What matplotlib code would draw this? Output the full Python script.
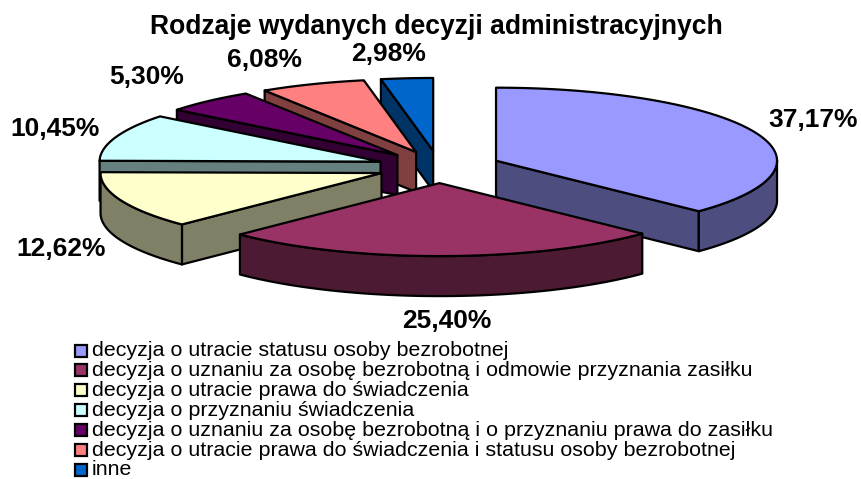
"""Rodzaje wydanych decyzji - wykres kołowy 3D w stylu Excela."""

import numpy as np
import matplotlib
matplotlib.use("Agg")
import matplotlib.pyplot as plt
from matplotlib.colors import to_rgb
from matplotlib.patches import Polygon, Rectangle

TITLE = "Rodzaje wydanych decyzji administracyjnych"
CATEGORIES = [
    "decyzja o utracie statusu osoby bezrobotnej",
    "decyzja o uznaniu za osobę bezrobotną i odmowie przyznania zasiłku",
    "decyzja o utracie prawa do świadczenia",
    "decyzja o przyznaniu świadczenia",
    "decyzja o uznaniu za osobę bezrobotną i o przyznaniu prawa do zasiłku",
    "decyzja o utracie prawa do świadczenia i statusu osoby bezrobotnej",
    "inne",
]
SHARES = [37.17, 25.40, 12.62, 10.45, 5.30, 6.08, 2.98]
COLORS = ["#9999FF", "#993366", "#FFFFCC", "#CCFFFF", "#660066", "#FF8080", "#0066CC"]

# geometria w pikselach
CX, CY = 439, 167
RX, RY = 281, 73
DEPTH = 40
EXPLODE = 62
LW = 1.6
LABEL_POS = [(813, 120), (447, 321), (61, 249), (55, 129), (147, 77), (264, 60), (389, 54)]
DRAW_ORDER = [0, 6, 5, 4, 3, 2, 1]

plt.rcParams["font.family"] = ["Liberation Sans", "DejaVu Sans"]


def rim(angles, ax_x, ax_y):
    # kąty od góry, zgodnie z ruchem wskazówek
    return np.column_stack([ax_x + RX * np.sin(angles), ax_y - RY * np.cos(angles)])


def draw_slice(ax, start, end, color):
    mid = (start + end) / 2
    x0 = CX + EXPLODE * np.sin(mid)
    y0 = CY - EXPLODE * np.cos(mid) * RY / RX
    dark = tuple(c * 0.5 for c in to_rgb(color))
    style = dict(edgecolor="black", linewidth=LW, joinstyle="round")
    down = np.array([0, DEPTH])
    apex = np.array([[x0, y0]])

    # ściany radialne - tylko te zwrócone do widza
    faces = []
    if np.sin(start) < -1e-6:
        faces.append(rim(np.array([start]), x0, y0))
    if np.sin(end) > 1e-6:
        faces.append(rim(np.array([end]), x0, y0))
    for pt in faces:
        edge = np.vstack([apex, pt])
        ax.add_patch(Polygon(np.vstack([edge, edge[::-1] + down]), facecolor=dark, **style))

    # ściana zewnętrzna (przednia część łuku)
    lo, hi = max(start, np.pi / 2), min(end, 3 * np.pi / 2)
    if hi > lo:
        arc = rim(np.linspace(lo, hi, 80), x0, y0)
        ax.add_patch(Polygon(np.vstack([arc, arc[::-1] + down]), facecolor=dark, **style))

    # wierzch
    arc = rim(np.linspace(start, end, 120), x0, y0)
    ax.add_patch(Polygon(np.vstack([apex, arc]), facecolor=color, **style))


fig = plt.figure(figsize=(8.61, 4.79), dpi=100)
ax = fig.add_axes([0, 0, 1, 1])
ax.set_xlim(0, 861)
ax.set_ylim(479, 0)
ax.axis("off")

edges = np.concatenate([[0], np.cumsum(SHARES)]) / sum(SHARES) * 2 * np.pi
for i in DRAW_ORDER:
    draw_slice(ax, edges[i], edges[i + 1], COLORS[i])

for share, (lx, ly) in zip(SHARES, LABEL_POS):
    ax.text(lx, ly, f"{share:.2f}%".replace(".", ","), ha="center", va="center",
            fontsize=19, fontweight="bold", color="black")

ax.text(436, 27, TITLE, ha="center", va="center", fontsize=19.1, fontweight="bold")

# legenda
for rank, (name, color) in enumerate(zip(CATEGORIES, COLORS)):
    y = 350.5 + rank * 19.9
    ax.add_patch(Rectangle((74.5, y - 6), 12, 12, facecolor=color, edgecolor="black", linewidth=1.6))
    ax.text(92, y, name, ha="left", va="center", fontsize=15.4, color="black")

fig.savefig("out.png", dpi=100)
